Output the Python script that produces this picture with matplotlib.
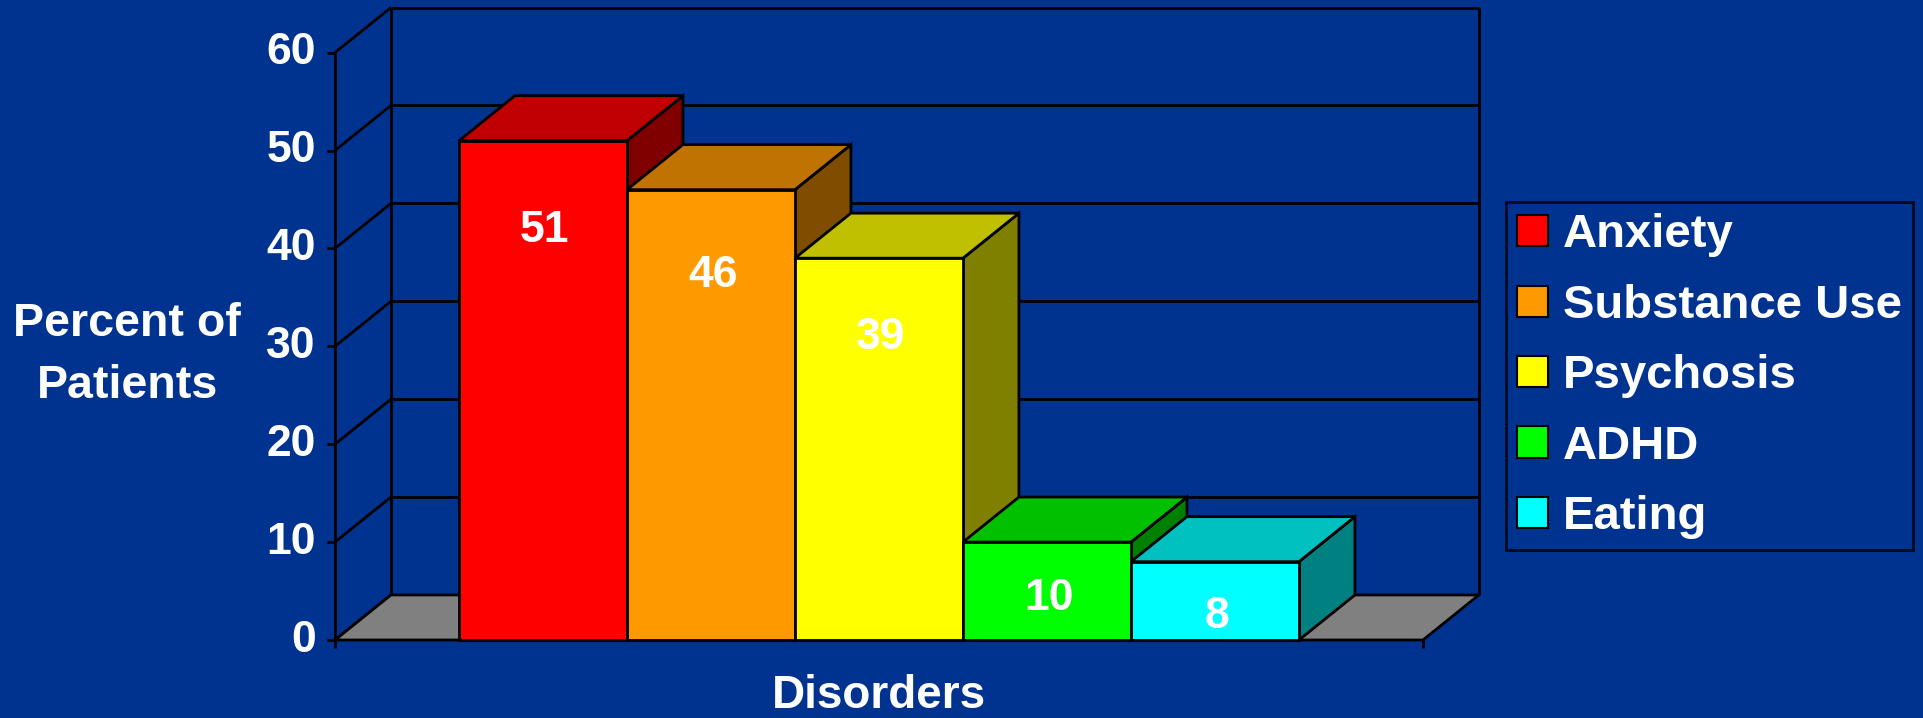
import matplotlib
matplotlib.use("Agg")
import matplotlib.pyplot as plt
from matplotlib.patches import Polygon, Patch

# ---- data ----
categories = ["Anxiety", "Substance Use", "Psychosis", "ADHD", "Eating"]
values = [51, 46, 39, 10, 8]
yticks = [0, 10, 20, 30, 40, 50, 60]
y_label = "Percent of\nPatients"
x_label = "Disorders"

# ---- style ----
BG = "#00338F"
front_colors = ["#FF0000", "#FF9900", "#FFFF00", "#00FF00", "#00FFFF"]
top_colors = ["#C00000", "#C07300", "#C0C000", "#00C000", "#00C0C0"]
side_colors = ["#800000", "#804D00", "#808000", "#008000", "#008080"]
FLOOR = "#808080"
FONT = "Liberation Sans"
plt.rcParams["font.family"] = [FONT, "DejaVu Sans"]

W_PX, H_PX, DPI = 1923, 718, 100
fig = plt.figure(figsize=(W_PX / DPI, H_PX / DPI), dpi=DPI, facecolor=BG)

n = len(categories)
gap = 0.738                       # floor space on each side (bar widths)
W = n + 2 * gap                   # floor width
DX, DY = 0.333, 4.6               # oblique depth offset (x units, value units)
YMAX = yticks[-1]

# axes placement (pixels)
left_px, zero_px, ux, uy = 335, 640, 168, 9.79
ax_w = (W + DX) * ux
ax_h = (YMAX + DY) * uy
ax = fig.add_axes([left_px / W_PX, (H_PX - zero_px) / H_PX, ax_w / W_PX, ax_h / H_PX])
ax.set_xlim(0, W + DX)
ax.set_ylim(0, YMAX + DY)
ax.axis("off")
ax.set_facecolor(BG)

LW = 2.0
kw = dict(color="black", lw=LW, clip_on=False, solid_capstyle="butt")

# floor
ax.add_patch(Polygon([(0, 0), (W, 0), (W + DX, DY), (DX, DY)], closed=True,
                     facecolor=FLOOR, edgecolor="black", lw=LW, clip_on=False, zorder=1))

# back wall grid + left wall diagonals + front axis
for v in yticks:
    if v > 0:
        ax.plot([DX, W + DX], [v + DY, v + DY], zorder=0.5, **kw)
    ax.plot([0, DX], [v, v + DY], zorder=0.5, **kw)
    ax.plot([-0.05, 0], [v, v], zorder=0.5, **kw)
    ax.text(-0.115, v, str(v), ha="right", va="center", color="white",
            fontsize=32, fontweight="bold", family=FONT)
ax.plot([DX, DX], [DY, YMAX + DY], zorder=0.5, **kw)
ax.plot([W + DX, W + DX], [DY, YMAX + DY], zorder=0.5, **kw)
ax.plot([0, 0], [-0.8, YMAX], zorder=0.5, **kw)
ax.plot([W, W], [-0.8, 0], zorder=0.5, **kw)

# bars (left to right)
for i, (v, fc, tc, sc) in enumerate(zip(values, front_colors, top_colors, side_colors)):
    x0 = gap + i
    x1 = x0 + 1
    side = Polygon([(x1, 0), (x1 + DX, DY), (x1 + DX, v + DY), (x1, v)], closed=True,
                   facecolor=sc, edgecolor="black", lw=LW, zorder=2 + i, clip_on=False)
    top = Polygon([(x0, v), (x1, v), (x1 + DX, v + DY), (x0 + DX, v + DY)], closed=True,
                  facecolor=tc, edgecolor="black", lw=LW, zorder=2 + i, clip_on=False)
    front = Polygon([(x0, 0), (x1, 0), (x1, v), (x0, v)], closed=True,
                    facecolor=fc, edgecolor="black", lw=LW, zorder=2 + i, clip_on=False)
    for p in (side, top, front):
        ax.add_patch(p)
    ly = v * 0.917 - 4.9
    ax.text(x0 + 0.51, ly, str(v), ha="center", va="center", color="white",
            fontsize=32, fontweight="bold", zorder=20 + i, family=FONT)

# axis titles
ax.text(W / 2, -5.75, x_label, ha="center", va="center", color="white",
        fontsize=33, fontweight="bold", family=FONT)
fig.text(127 / W_PX, 1 - 355 / H_PX, y_label, ha="center", va="center", color="white",
         fontsize=33.5, fontweight="bold", linespacing=1.5, family=FONT)

# legend
handles = [Patch(facecolor=c, edgecolor="black", lw=1.5) for c in front_colors]
leg = fig.legend(handles, categories, loc="upper left",
                 bbox_to_anchor=(1506 / W_PX, 1 - 202 / H_PX), borderaxespad=0,
                 frameon=True, fancybox=False, facecolor=BG, edgecolor="black",
                 prop={"family": FONT, "size": 34, "weight": "bold"}, labelcolor="white",
                 handlelength=0.64, handleheight=0.64, handletextpad=0.32,
                 labelspacing=0.56, borderpad=0.24)
leg.get_frame().set_linewidth(2.0)

fig.savefig("out.png", dpi=DPI, facecolor=BG)
